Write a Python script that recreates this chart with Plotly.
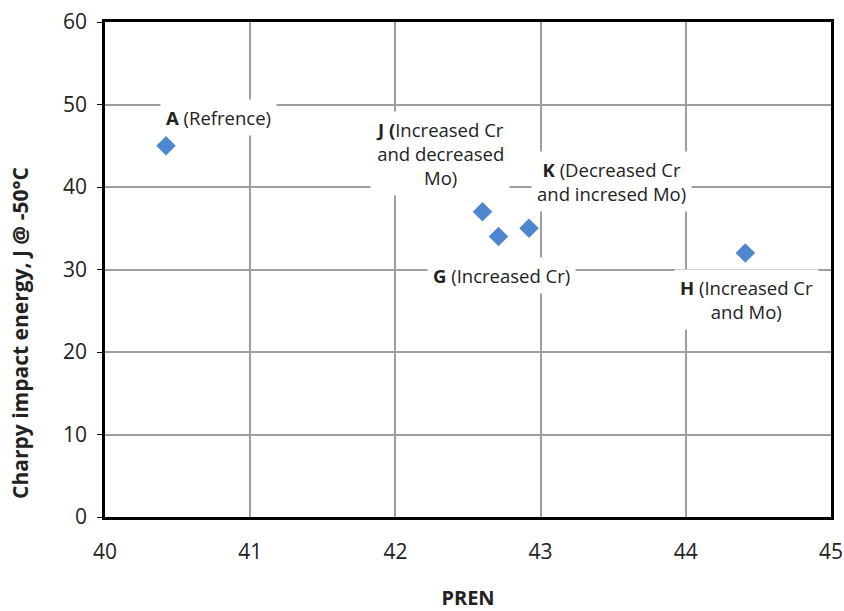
import plotly.graph_objects as go

pren = [40.42, 42.6, 42.71, 42.92, 44.41]
energy = [45, 37, 34, 35, 32]
names = ["A", "J", "G", "K", "H"]

label_texts = [
    "<b>A</b> (Refrence)",
    "<b>J (</b>Increased Cr<br>and decreased<br>Mo)",
    "<b>G</b> (Increased Cr)",
    "<b>K</b> (Decreased Cr<br>and incresed Mo)",
    "<b>H</b> (Increased Cr<br>and Mo)",
]
label_x = [40.78, 42.31, 42.73, 43.49, 44.42]
label_y = [48.4, 44.1, 29.3, 40.7, 26.4]

FONT = "Open Sans"

fig = go.Figure()
fig.add_trace(go.Scatter(
    x=pren, y=energy, mode="markers",
    marker=dict(symbol="diamond", size=15, color="#4f86d0",
                line=dict(width=0)),
    text=names, hoverinfo="text+x+y", showlegend=False,
))

for t, lx, ly in zip(label_texts, label_x, label_y):
    fig.add_annotation(x=lx, y=ly, text=t, showarrow=False,
                       font=dict(family=FONT, size=18.5, color="#222222"),
                       bgcolor="white", borderpad=5, align="center")

# y-axis title (placed off-centre, as in the original)
fig.add_annotation(x=-0.117, y=0.372, xref="paper", yref="paper",
                   xanchor="center", yanchor="middle",
                   text="<b>Charpy impact energy, J @ -50°C</b>",
                   textangle=-90, showarrow=False,
                   font=dict(family=FONT, size=21, color="#222222"))

fig.update_layout(
    width=844, height=611,
    margin=dict(l=105, r=13, t=22, b=94),
    paper_bgcolor="white", plot_bgcolor="white",
    font=dict(family=FONT, size=18, color="#222222"),
)
fig.update_xaxes(
    range=[40, 45], dtick=1, tick0=40,
    showgrid=True, gridcolor="#9e9e9e", gridwidth=1.5,
    showline=True, linecolor="black", linewidth=2.5, mirror=True,
    ticks="", ticklabelstandoff=14,
    tickfont=dict(size=21), zeroline=False, automargin=False,
    title=dict(text="<b>PREN</b>", font=dict(size=20), standoff=46),
)
fig.update_yaxes(
    range=[0, 60], dtick=10, tick0=0,
    showgrid=True, gridcolor="#9e9e9e", gridwidth=1.5,
    showline=True, linecolor="black", linewidth=2.5, mirror=True,
    ticks="outside", ticklen=5, tickcolor="black", ticklabelstandoff=6,
    tickfont=dict(size=21), zeroline=False, automargin=False,
)

fig.write_html("out.html")
